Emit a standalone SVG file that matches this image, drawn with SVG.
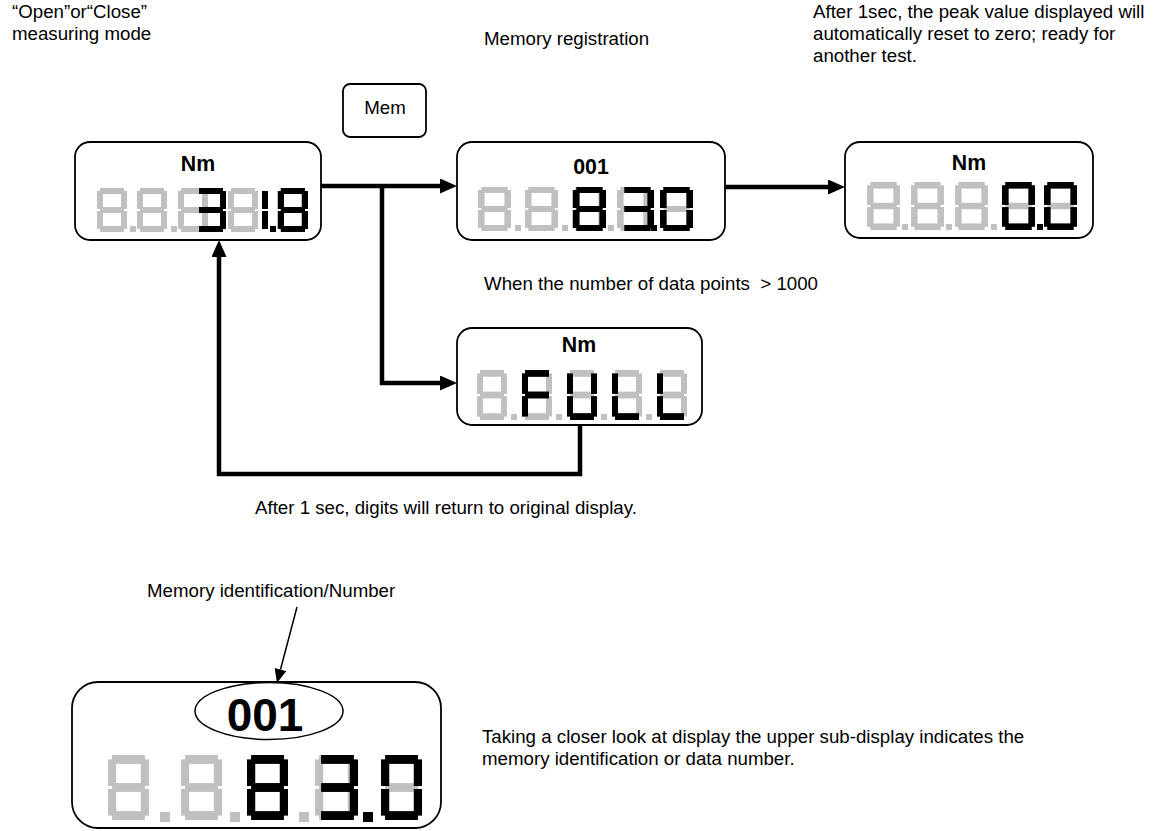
<svg xmlns="http://www.w3.org/2000/svg" xmlns:xlink="http://www.w3.org/1999/xlink" width="1167" height="831" viewBox="0 0 1167 831">
<style>
.t{font-family:"Liberation Sans",Arial,sans-serif;font-size:18.7px;fill:#000}
.b{font-family:"Liberation Sans",Arial,sans-serif;font-weight:bold;font-size:21.3px;fill:#000;text-anchor:middle}
.box{fill:#fff;stroke:#000;stroke-width:1.8}
.con{fill:none;stroke:#000;stroke-width:4.5;stroke-linejoin:miter}
.thin{fill:none;stroke:#000;stroke-width:1.5}
.g{fill:#c0c0c0}
.k{fill:#000}
</style>
<defs>
<symbol id="d8" viewBox="0 0 30 44" preserveAspectRatio="none"><rect x="3" y="0" width="24" height="6"/><rect x="24" y="3" width="6" height="18"/><rect x="24" y="23" width="6" height="18"/><rect x="3" y="38" width="24" height="6"/><rect x="0" y="23" width="6" height="18"/><rect x="0" y="3" width="6" height="18"/><rect x="3" y="19" width="24" height="6"/></symbol>
<symbol id="d3" viewBox="0 0 30 44" preserveAspectRatio="none"><rect x="3" y="0" width="24" height="6"/><rect x="24" y="3" width="6" height="18"/><rect x="24" y="23" width="6" height="18"/><rect x="3" y="38" width="24" height="6"/><rect x="3" y="19" width="24" height="6"/></symbol>
<symbol id="d1" viewBox="0 0 30 44" preserveAspectRatio="none"><rect x="24" y="3" width="6" height="18"/><rect x="24" y="23" width="6" height="18"/></symbol>
<symbol id="d0" viewBox="0 0 30 44" preserveAspectRatio="none"><rect x="3" y="0" width="24" height="6"/><rect x="24" y="3" width="6" height="18"/><rect x="24" y="23" width="6" height="18"/><rect x="3" y="38" width="24" height="6"/><rect x="0" y="23" width="6" height="18"/><rect x="0" y="3" width="6" height="18"/></symbol>
<symbol id="dF" viewBox="0 0 30 44" preserveAspectRatio="none"><rect x="3" y="0" width="24" height="6"/><rect x="0" y="23" width="6" height="18"/><rect x="0" y="3" width="6" height="18"/><rect x="3" y="19" width="24" height="6"/></symbol>
<symbol id="dU" viewBox="0 0 30 44" preserveAspectRatio="none"><rect x="24" y="3" width="6" height="18"/><rect x="24" y="23" width="6" height="18"/><rect x="3" y="38" width="24" height="6"/><rect x="0" y="23" width="6" height="18"/><rect x="0" y="3" width="6" height="18"/></symbol>
<symbol id="dL" viewBox="0 0 30 44" preserveAspectRatio="none"><rect x="3" y="38" width="24" height="6"/><rect x="0" y="23" width="6" height="18"/><rect x="0" y="3" width="6" height="18"/></symbol>
<marker id="ah" markerUnits="userSpaceOnUse" markerWidth="17" markerHeight="15" refX="0" refY="7.5" orient="auto"><path d="M0,0 L17,7.5 L0,15 z" fill="#000"/></marker>
<marker id="ahs" markerUnits="userSpaceOnUse" markerWidth="14" markerHeight="12" refX="0" refY="6" orient="auto"><path d="M0,0 L14,6 L0,12 z" fill="#000"/></marker>
</defs>

<g id="labels">
<text class="t" x="12" y="18">“Open”or“Close”</text>
<text class="t" x="12" y="40">measuring mode</text>
<text class="t" x="484" y="45">Memory registration</text>
<text class="t" x="813" y="18">After 1sec, the peak value displayed will</text>
<text class="t" x="813" y="40">automatically reset to zero; ready for</text>
<text class="t" x="813" y="62">another test.</text>
<text class="t" x="484" y="290" xml:space="preserve">When the number of data points  &gt; 1000</text>
<text class="t" x="255" y="514">After 1 sec, digits will return to original display.</text>
<text class="t" x="147" y="597">Memory identification/Number</text>
<text class="t" x="482" y="743">Taking a closer look at display the upper sub-display indicates the</text>
<text class="t" x="482" y="765">memory identification or data number.</text>
</g>

<g id="mem-button">
<rect class="box" x="343" y="84" width="83" height="53" rx="7"/>
<text class="t" x="385" y="114" text-anchor="middle">Mem</text>
</g>

<g id="connectors">
<path class="con" d="M321,186 H440" marker-end="url(#ah)"/>
<path class="con" d="M382,186 V383 H440" marker-end="url(#ah)"/>
<path class="con" d="M725,187 H828" marker-end="url(#ah)"/>
<path class="con" d="M580,425 V474 H219 V257" marker-end="url(#ah)"/>
<path class="thin" d="M297,607 L280.5,669.5" marker-end="url(#ahs)"/>
</g>

<g id="display-measure">
<rect class="box" x="75" y="142" width="246" height="98" rx="15"/>
<text class="b" x="198" y="171">Nm</text>
<g class="g">
<use href="#d8" x="97" y="188" width="30" height="44"/>
<use href="#d8" x="137" y="188" width="30" height="44"/>
<use href="#d8" x="178" y="188" width="30" height="44"/>
<use href="#d8" x="228" y="188" width="30" height="44"/>
<use href="#d8" x="277" y="188" width="30" height="44"/>
<rect x="130" y="226" width="6" height="6"/>
<rect x="171" y="226" width="6" height="6"/>
<rect x="212" y="226" width="6" height="6"/>
</g>
<g class="k">
<use href="#d3" x="196" y="188" width="30" height="44"/>
<use href="#d1" x="238" y="188" width="30" height="44"/>
<rect x="270" y="226" width="6" height="6"/>
<use href="#d8" x="278" y="188" width="30" height="44"/>
</g>
</g>

<g id="display-memory">
<rect class="box" x="457" y="142" width="268" height="98" rx="15"/>
<text class="b" x="591" y="174">001</text>
<g class="g">
<use href="#d8" x="478" y="187" width="33" height="44"/>
<use href="#d8" x="525" y="187" width="33" height="44"/>
<use href="#d8" x="572" y="187" width="33" height="44"/>
<use href="#d8" x="617" y="187" width="33" height="44"/>
<use href="#d8" x="660" y="187" width="33" height="44"/>
<rect x="515" y="225" width="6" height="6"/>
<rect x="562" y="225" width="6" height="6"/>
<rect x="608" y="225" width="6" height="6"/>
</g>
<g class="k">
<use href="#d8" x="573" y="187" width="33" height="44"/>
<use href="#d3" x="621" y="187" width="33" height="44"/>
<rect x="651" y="225" width="6" height="6"/>
<use href="#d0" x="660" y="187" width="33" height="44"/>
</g>
</g>

<g id="display-reset">
<rect class="box" x="845" y="142" width="248" height="96" rx="15"/>
<text class="b" x="969" y="170">Nm</text>
<g class="g">
<use href="#d8" x="867" y="182" width="33" height="48"/>
<use href="#d8" x="911" y="182" width="33" height="48"/>
<use href="#d8" x="955" y="182" width="33" height="48"/>
<use href="#d8" x="1002" y="182" width="33" height="48"/>
<use href="#d8" x="1044" y="182" width="33" height="48"/>
<rect x="902" y="224" width="6" height="6"/>
<rect x="946" y="224" width="6" height="6"/>
<rect x="991" y="224" width="6" height="6"/>
</g>
<g class="k">
<use href="#d0" x="1002" y="182" width="33" height="48"/>
<rect x="1037" y="224" width="6" height="6"/>
<use href="#d0" x="1044" y="182" width="33" height="48"/>
</g>
</g>

<g id="display-full">
<rect class="box" x="457" y="328" width="245" height="97" rx="15"/>
<text class="b" x="579" y="352">Nm</text>
<g class="g">
<use href="#d8" x="477" y="370" width="30" height="50"/>
<use href="#d8" x="522" y="370" width="30" height="50"/>
<use href="#d8" x="567" y="370" width="30" height="50"/>
<use href="#d8" x="612" y="370" width="30" height="50"/>
<use href="#d8" x="657" y="370" width="30" height="50"/>
<rect x="511" y="414" width="6" height="6"/>
<rect x="556" y="414" width="6" height="6"/>
<rect x="601" y="414" width="6" height="6"/>
<rect x="646" y="414" width="6" height="6"/>
</g>
<g class="k">
<use href="#dF" x="522" y="370" width="30" height="50"/>
<use href="#dU" x="567" y="370" width="30" height="50"/>
<use href="#dL" x="612" y="370" width="30" height="50"/>
<use href="#dL" x="657" y="370" width="30" height="50"/>
</g>
</g>

<g id="display-closeup">
<rect class="box" x="72" y="682" width="369" height="146" rx="26"/>
<ellipse cx="269" cy="711" rx="74" ry="28.5" fill="#fff" stroke="#000" stroke-width="1.5"/>
<text class="b" x="265" y="731" style="font-size:46px">001</text>
<g class="g">
<use href="#d8" x="108" y="755" width="41" height="65"/>
<use href="#d8" x="181" y="755" width="41" height="65"/>
<use href="#d8" x="247" y="755" width="41" height="65"/>
<use href="#d8" x="315" y="755" width="41" height="65"/>
<use href="#d8" x="381" y="755" width="41" height="65"/>
<rect x="160" y="812" width="10" height="10"/>
<rect x="230" y="812" width="10" height="10"/>
<rect x="299" y="812" width="10" height="10"/>
</g>
<g class="k">
<use href="#d8" x="247" y="755" width="41" height="65"/>
<use href="#d3" x="317" y="755" width="41" height="65"/>
<rect x="363" y="812" width="10" height="10"/>
<use href="#d0" x="381" y="755" width="41" height="65"/>
</g>
</g>
</svg>
